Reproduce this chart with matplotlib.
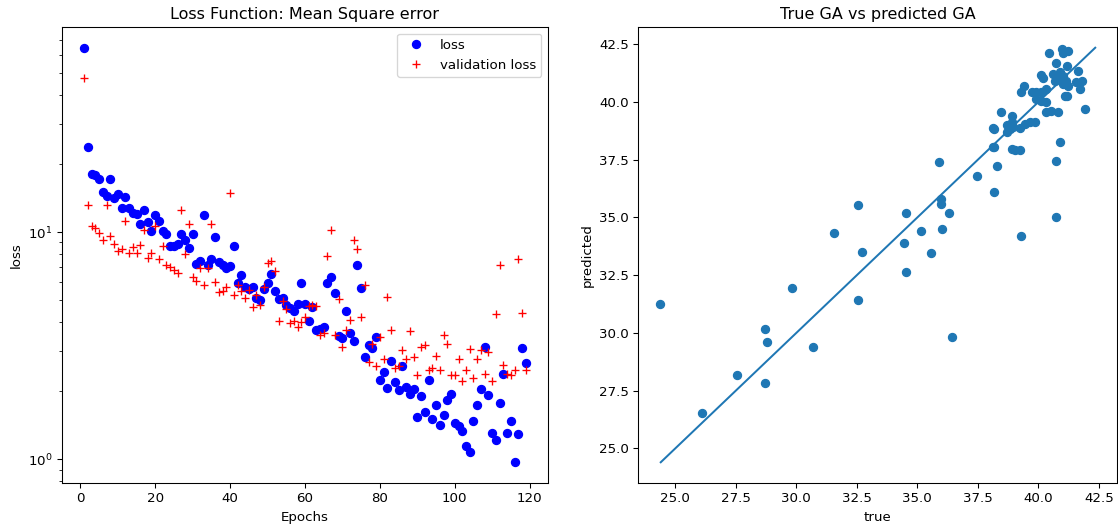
import numpy as np
import matplotlib
matplotlib.use("Agg")
import matplotlib.pyplot as plt

#training history
loss = [64.7, 23.6, 17.96, 17.8, 17.1, 15.0, 14.4, 17.1, 14.1, 14.7,
        12.7, 14.3, 12.7, 12.1, 12.0, 10.9, 12.5, 11.1, 10.1, 11.9,
        11.2, 10.1, 9.8, 8.68, 8.68, 8.86, 9.8, 9.22, 8.51, 9.8,
        7.24, 7.46, 11.9, 7.17, 7.62, 9.5, 7.38, 7.17, 6.95, 7.10,
        8.68, 5.97, 6.48, 5.74, 5.62, 5.74, 5.14, 5.03, 5.62, 5.97,
        6.55, 5.51, 5.08, 5.14, 4.79, 4.64, 4.50, 4.83, 5.97, 4.83,
        4.07, 4.69, 3.72, 3.76, 3.83, 5.97, 6.35, 5.40, 3.50, 3.43,
        4.50, 3.61, 3.33, 7.17, 5.68, 2.83, 3.19, 3.10, 3.46, 2.24,
        2.41, 2.05, 2.72, 2.18, 2.01, 2.58, 2.09, 1.93, 2.03, 1.54,
        1.89, 1.61, 2.24, 1.50, 1.74, 1.42, 1.56, 1.83, 1.93, 1.44,
        1.40, 1.33, 1.14, 1.08, 1.48, 1.74, 2.03, 3.13, 1.91, 1.30,
        1.22, 1.76, 2.38, 1.31, 1.47, 0.97, 1.29, 3.10, 2.64]

val_loss = [47.7, 13.1, 10.6, 10.4, 9.9, 9.22, 13.1, 9.60, 8.86, 8.26,
            8.42, 11.2, 8.09, 8.59, 8.09, 8.77, 10.2, 7.69, 8.09, 10.6,
            7.62, 8.68, 7.17, 7.02, 6.81, 6.61, 12.5, 8.01, 10.8, 6.35,
            6.10, 6.95, 5.86, 6.95, 10.8, 6.04, 5.45, 5.51, 5.74, 14.8,
            5.29, 5.86, 5.51, 5.14, 5.57, 4.69, 5.29, 4.79, 5.74, 7.31,
            7.46, 6.75, 4.07, 4.98, 4.59, 3.99, 4.07, 3.83, 4.03, 4.24,
            4.74, 4.79, 4.74, 3.53, 3.61, 7.85, 10.2, 3.53, 5.08, 3.13,
            3.72, 4.11, 9.22, 8.42, 4.24, 5.86, 2.69, 3.23, 2.56, 3.46,
            2.75, 5.19, 3.72, 2.53, 2.58, 3.04, 2.75, 3.68, 2.83, 2.34,
            3.13, 3.19, 2.46, 2.53, 2.86, 2.46, 3.53, 3.23, 2.36, 2.36,
            2.77, 2.22, 2.46, 3.07, 2.27, 2.77, 3.04, 2.38, 2.95, 2.20,
            4.37, 7.17, 2.61, 2.38, 2.34, 2.48, 7.62, 4.41, 2.46]

epochs = range(1, len(loss) + 1)

#true vs predicted gestational age
y_true = [24.36, 26.10, 27.54, 28.70, 28.81, 28.70, 29.81, 30.71, 31.56, 32.54,
          32.72, 32.54, 34.44, 34.55, 34.55, 35.16, 35.55, 35.88, 35.99, 35.99,
          36.01, 36.29, 36.45, 37.46, 38.17, 38.17, 38.28, 38.17, 39.28, 40.72,
          40.72, 40.91,
          40.45, 40.99, 41.23, 41.03, 40.75, 41.20, 40.13, 40.20, 40.60, 40.88,
          41.02, 40.81, 40.68, 41.64, 41.57, 41.80, 41.71, 41.16, 41.23, 41.02,
          41.09, 41.20, 39.42, 39.28, 39.72, 39.92, 40.13, 40.33, 39.92, 40.13,
          40.33, 40.33, 40.54, 40.82, 41.91, 38.46, 38.90, 38.90, 38.69, 38.83,
          38.96, 39.24, 39.44, 39.65, 39.88, 38.14, 38.70, 38.14, 38.90, 39.03,
          39.24]
y_pred = [31.26, 26.55, 28.20, 30.19, 29.61, 27.84, 31.94, 29.40, 34.32, 35.52,
          33.49, 31.42, 33.91, 35.20, 32.62, 34.43, 33.45, 37.39, 35.82, 35.57,
          34.48, 35.20, 29.81, 36.81, 38.03, 38.84, 37.23, 36.09, 34.21, 37.43,
          35.00, 38.26,
          42.11, 42.31, 42.21, 42.14, 41.68, 41.56, 41.16, 41.06, 41.20, 41.28,
          41.13, 40.99, 40.92, 41.35, 40.87, 40.92, 40.56, 40.92, 40.70, 40.78,
          40.27, 40.27, 40.70, 40.42, 40.42, 40.44, 40.42, 40.56, 40.13, 40.06,
          40.01, 39.56, 39.63, 39.56, 39.70, 39.56, 39.41, 39.15, 39.01, 38.84,
          38.91, 38.87, 39.05, 39.13, 39.13, 38.87, 38.70, 38.05, 37.97, 37.90,
          37.90]
line_ends = [24.4, 42.35]

#%%
DPI = 96
fig = plt.figure(figsize=(1118 / DPI, 525 / DPI), dpi=DPI)

ax1 = fig.add_axes([62 / 1118, 1 - 483 / 525, 486 / 1118, 456 / 525])
ax1.semilogy(epochs, loss, 'bo', label='loss')
ax1.semilogy(epochs, val_loss, 'r+', label='validation loss')
ax1.set_title('Loss Function: Mean Square error')
ax1.set_xlabel('Epochs')
ax1.set_ylabel('loss')
ax1.legend()

ax2 = fig.add_axes([638 / 1118, 1 - 483 / 525, 479 / 1118, 456 / 525])
ax2.scatter(y_true, y_pred)
ax2.plot(line_ends, line_ends)
ax2.set_title('True GA vs predicted GA')
ax2.set_xlabel('true')
ax2.set_ylabel('predicted')

fig.savefig('out.png', dpi=DPI)
